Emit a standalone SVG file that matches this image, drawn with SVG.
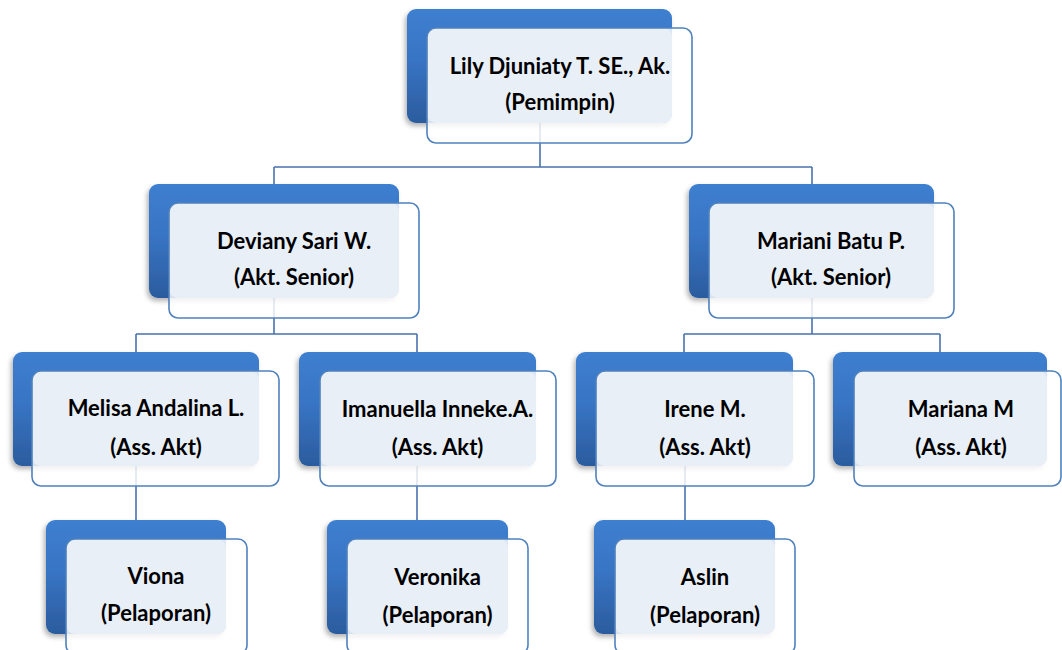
<svg xmlns="http://www.w3.org/2000/svg" width="1062" height="650" viewBox="0 0 1062 650">
<defs>
<linearGradient id="gb" x1="0" y1="0" x2="0" y2="1">
<stop offset="0" stop-color="#3e7fd0"/>
<stop offset="0.45" stop-color="#3874c4"/>
<stop offset="1" stop-color="#2b5c9e"/>
</linearGradient>
<filter id="sh" x="-10%" y="-10%" width="120%" height="125%">
<feDropShadow dx="-2" dy="3" stdDeviation="2.5" flood-color="#000" flood-opacity="0.3"/>
</filter>
</defs>
<style>
.back{fill:url(#gb);filter:url(#sh)}
.ff{fill:#ffffff;fill-opacity:0.82}
.panel{fill:#e9eff7}
.fo{fill:none;stroke:#4f81bd;stroke-width:1.6}
.cn{fill:none;stroke:#4a72ad;stroke-width:1.6}
text{font-family:Lato,"Liberation Sans",Arial,sans-serif;font-weight:bold;font-size:22px;fill:#000;text-anchor:middle}
</style>
<rect width="1062" height="650" fill="#fff"/>
<g id="connectors">
<path class="cn" d="M540,123V167M274,167H812M274,167V184M812,167V184"/>
<path class="cn" d="M274,298V334M136,334H417M136,334V352M417,334V352"/>
<path class="cn" d="M812,298V334M684,334H940M684,334V352M940,334V352"/>
<path class="cn" d="M136,466V520M417,466V520M685,466V520"/>
</g>
<g id="lily">
<rect class="back" x="407" y="9" width="265" height="114" rx="9"/>
<rect class="ff" x="427" y="28" width="265" height="115" rx="9"/>
<rect class="panel" x="427" y="28" width="245" height="95" rx="9"/>
<rect class="fo" x="427" y="28" width="265" height="115" rx="9"/>
<text x="560" y="74">Lily Djuniaty T. SE., Ak.</text>
<text x="560" y="110">(Pemimpin)</text>
</g>
<g id="deviany">
<rect class="back" x="149" y="184" width="250" height="114" rx="9"/>
<rect class="ff" x="169" y="203" width="250" height="115" rx="9"/>
<rect class="panel" x="169" y="203" width="230" height="95" rx="9"/>
<rect class="fo" x="169" y="203" width="250" height="115" rx="9"/>
<text x="294" y="249">Deviany Sari W.</text>
<text x="294" y="285">(Akt. Senior)</text>
</g>
<g id="mariani">
<rect class="back" x="689" y="184" width="245" height="114" rx="9"/>
<rect class="ff" x="709" y="203" width="245" height="115" rx="9"/>
<rect class="panel" x="709" y="203" width="225" height="95" rx="9"/>
<rect class="fo" x="709" y="203" width="245" height="115" rx="9"/>
<text x="831" y="249">Mariani Batu P.</text>
<text x="831" y="285">(Akt. Senior)</text>
</g>
<g id="melisa">
<rect class="back" x="13" y="352" width="246" height="114" rx="9"/>
<rect class="ff" x="32" y="371" width="247" height="115" rx="9"/>
<rect class="panel" x="32" y="371" width="227" height="95" rx="9"/>
<rect class="fo" x="32" y="371" width="247" height="115" rx="9"/>
<text x="156" y="416">Melisa Andalina L.</text>
<text x="156" y="455">(Ass. Akt)</text>
</g>
<g id="imanuella">
<rect class="back" x="299" y="352" width="237" height="114" rx="9"/>
<rect class="ff" x="320" y="371" width="236" height="115" rx="9"/>
<rect class="panel" x="320" y="371" width="216" height="95" rx="9"/>
<rect class="fo" x="320" y="371" width="236" height="115" rx="9"/>
<text x="437.5" y="417">Imanuella Inneke.A.</text>
<text x="437.5" y="455">(Ass. Akt)</text>
</g>
<g id="irene">
<rect class="back" x="576" y="352" width="217" height="114" rx="9"/>
<rect class="ff" x="596" y="371" width="218" height="115" rx="9"/>
<rect class="panel" x="596" y="371" width="197" height="95" rx="9"/>
<rect class="fo" x="596" y="371" width="218" height="115" rx="9"/>
<text x="705" y="417">Irene M.</text>
<text x="705" y="455">(Ass. Akt)</text>
</g>
<g id="mariana">
<rect class="back" x="833" y="352" width="214" height="114" rx="9"/>
<rect class="ff" x="854" y="371" width="207" height="115" rx="9"/>
<rect class="panel" x="854" y="371" width="193" height="95" rx="9"/>
<rect class="fo" x="854" y="371" width="207" height="115" rx="9"/>
<text x="961" y="417">Mariana M</text>
<text x="961" y="455">(Ass. Akt)</text>
</g>
<g id="viona">
<rect class="back" x="46" y="520" width="180" height="114" rx="9"/>
<rect class="ff" x="66" y="539" width="181" height="115" rx="9"/>
<rect class="panel" x="66" y="539" width="160" height="95" rx="9"/>
<rect class="fo" x="66" y="539" width="181" height="115" rx="9"/>
<text x="156" y="584">Viona</text>
<text x="156" y="621">(Pelaporan)</text>
</g>
<g id="veronika">
<rect class="back" x="327" y="520" width="181" height="114" rx="9"/>
<rect class="ff" x="347" y="539" width="181" height="115" rx="9"/>
<rect class="panel" x="347" y="539" width="161" height="95" rx="9"/>
<rect class="fo" x="347" y="539" width="181" height="115" rx="9"/>
<text x="437.5" y="585">Veronika</text>
<text x="437.5" y="623">(Pelaporan)</text>
</g>
<g id="aslin">
<rect class="back" x="594" y="520" width="181" height="114" rx="9"/>
<rect class="ff" x="615" y="539" width="180" height="115" rx="9"/>
<rect class="panel" x="615" y="539" width="160" height="95" rx="9"/>
<rect class="fo" x="615" y="539" width="180" height="115" rx="9"/>
<text x="705" y="585">Aslin</text>
<text x="705" y="623">(Pelaporan)</text>
</g>
</svg>
